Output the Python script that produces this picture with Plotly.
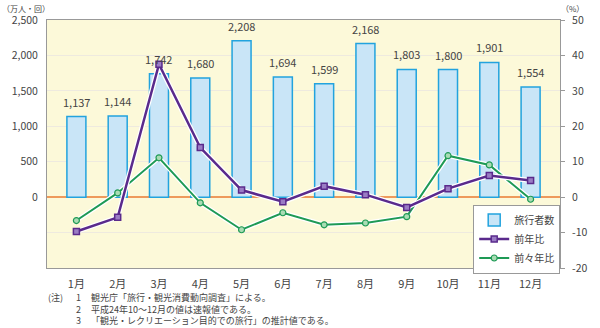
import plotly.graph_objects as go

months = ["1月", "2月", "3月", "4月", "5月", "6月", "7月", "8月", "9月", "10月", "11月", "12月"]
travelers = [1137, 1144, 1742, 1680, 2208, 1694, 1599, 2168, 1803, 1800, 1901, 1554]
yoy = [-9.7, -5.7, 37.5, 14.0, 2.0, -1.3, 3.1, 0.7, -2.9, 2.4, 6.1, 4.7]
yo2y = [-6.6, 1.2, 11.1, -1.6, -9.2, -4.4, -7.8, -7.3, -5.5, 11.7, 9.1, -0.6]
left_ticks = [0, 500, 1000, 1500, 2000, 2500]
right_ticks = [-20, -10, 0, 10, 20, 30, 40, 50]
note_head = "(注)"
note_nums = ["1", "2", "3"]
note_texts = [
    "観光庁「旅行・観光消費動向調査」による。",
    "平成24年10～12月の値は速報値である。",
    "「観光・レクリエーション目的での旅行」の推計値である。",
]

FONT = "Noto Sans CJK JP, Noto Sans, sans-serif"
GREY = "#444444"
PURPLE = "#5a2a8c"
GREEN = "#1e9a55"

fig = go.Figure()
fig.add_trace(go.Bar(
    x=months, y=travelers, name="旅行者数", legendrank=1,
    marker=dict(color="#c9e5f7", line=dict(color="#22a3de", width=1.5)),
    yaxis="y",
))
# white halos
fig.add_trace(go.Scatter(x=months, y=yo2y, mode="lines", yaxis="y2", showlegend=False,
                         line=dict(color="white", width=4.5), hoverinfo="skip"))
fig.add_trace(go.Scatter(
    x=months, y=yo2y, name="前々年比", mode="lines+markers", yaxis="y2", legendrank=3,
    line=dict(color=GREEN, width=2),
    marker=dict(symbol="circle", size=6, color="#a9dcb4", line=dict(color=GREEN, width=1.2)),
))
fig.add_trace(go.Scatter(x=months, y=yoy, mode="lines", yaxis="y2", showlegend=False,
                         line=dict(color="white", width=5), hoverinfo="skip"))
fig.add_trace(go.Scatter(
    x=months, y=yoy, name="前年比", mode="lines+markers", yaxis="y2", legendrank=2,
    line=dict(color=PURPLE, width=2.5),
    marker=dict(symbol="square", size=6, color="#9a7cc4", line=dict(color=PURPLE, width=1.5)),
))

L, R, T, B = 47, 573, 18, 268
W, H = R - L, B - T
def px(x):
    return (x - L) / W
def py(y):
    return (B - y) / H

fig.update_layout(
    width=600, height=328,
    margin=dict(l=L, r=600 - R, t=T, b=328 - B),
    paper_bgcolor="white", plot_bgcolor="#fcf9d9",
    font=dict(family=FONT, color=GREY, size=11),
    bargap=0.54,
    showlegend=True,
    legend=dict(x=px(484), y=py(204), xanchor="left", yanchor="top",
                bgcolor="white", bordercolor="#999999", borderwidth=1,
                font=dict(size=10, color=GREY), tracegroupgap=0,
                traceorder="normal", itemwidth=30),
    xaxis=dict(showline=True, linecolor="#999999", linewidth=1, mirror=True,
               ticks="", ticklabelstandoff=6,
               tickfont=dict(size=11, color=GREY), showgrid=False),
    yaxis=dict(range=[-1000, 2500], tickvals=left_ticks,
               ticktext=[f"{v:,}" for v in left_ticks],
               showgrid=False, zeroline=False, showline=True, linecolor="#999999",
               linewidth=1, mirror=True, ticks="", ticklabelstandoff=6,
               tickfont=dict(size=10.5, color=GREY)),
    yaxis2=dict(range=[-20, 50], overlaying="y", side="right",
                tickvals=right_ticks, ticktext=[str(v) for v in right_ticks],
                showgrid=True, gridcolor="#eeeadf", gridwidth=1,
                zeroline=True, zerolinecolor="#ee9a5c", zerolinewidth=2,
                showline=False, ticks="outside", ticklen=4, tickcolor="#999999",
                ticklabelstandoff=5,
                tickfont=dict(size=10.5, color=GREY)),
)

final = []
# bar value labels, placed through the data scale
for m, v in zip(months, travelers):
    final.append(dict(x=m, y=v, xref="x", yref="y", text=f"{v:,}", yshift=15,
                      yanchor="middle", showarrow=False,
                      font=dict(size=11, color=GREY, family=FONT)))

anns = [
    dict(x=px(0), y=py(0), text="（万人・回）", xanchor="left", yanchor="top", size=8),
    dict(x=px(599), y=py(0), text="（%）", xanchor="right", yanchor="top", size=8),
    dict(x=px(47), y=py(328), text=note_head + "<br> <br> ", xanchor="left",
         yanchor="bottom", size=9),
    dict(x=px(79), y=py(328), text="<br>".join(note_nums), xanchor="center",
         yanchor="bottom", size=9),
    dict(x=px(91), y=py(328), text="<br>".join(note_texts), xanchor="left",
         yanchor="bottom", size=9, align="left"),
]
for a in anns:
    s = a.pop("size")
    a.update(xref="paper", yref="paper", showarrow=False, borderpad=0,
             font=dict(size=s, color=GREY, family=FONT))
    final.append(a)
fig.update_layout(annotations=final)

fig.write_html("out.html")
